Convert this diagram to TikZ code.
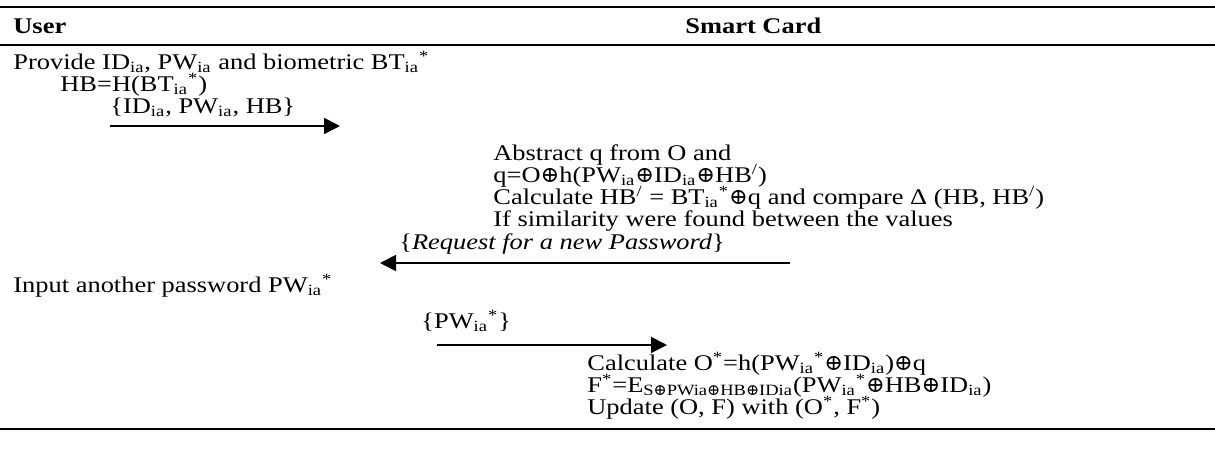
\documentclass[tikz,border=0pt]{standalone}
\usepackage{fontspec}
\setmainfont{Liberation Serif}[FakeStretch=1.18]
\newfontfamily\symf{DejaVu Serif}
\usetikzlibrary{arrows.meta}
\newcommand{\ias}{\textsubscript{ia}}
\newcommand{\astr}{\textsuperscript{*}}
\newcommand{\xo}{{\symf ⊕}}
\newcommand{\prm}{\textsuperscript{/}}
\begin{document}
\begin{tikzpicture}[x=0.5pt,y=-0.5pt,
  txt/.style={anchor=base west,inner sep=0pt,font=\fontsize{11.2}{13}\selectfont},
  hdr/.style={txt,font=\fontsize{11.2}{13}\selectfont\bfseries},
  rulethick/.style={line width=1pt},
  rulethin/.style={line width=0.75pt},
  msg/.style={line width=0.9pt,-{Triangle[length=8pt,width=8pt]}}]
\useasboundingbox (0,0) rectangle (1215,450);
% rules
\coordinate (r1a) at (0,7);   \coordinate (r1b) at (1215,7);
\coordinate (r2a) at (0,45);  \coordinate (r2b) at (1215,45);
\coordinate (r3a) at (0,429); \coordinate (r3b) at (1215,429);
\draw[rulethick] (r1a) -- (r1b);
\draw[rulethin] (r2a) -- (r2b);
\draw[rulethick] (r3a) -- (r3b);
% headers
\node[hdr] (user) at (13,33) {User};
\node[hdr] (card) at (685,33) {Smart Card};
% user side
\node[txt] (l1) at (13,69) {Provide ID\ias, PW\ias{} and biometric BT\ias\astr};
\node[txt] (l2) at (60,91) {HB=H(BT\ias\astr)};
\node[txt] (m1) at (110,113) {\{ID\ias, PW\ias, HB\}};
\coordinate (a1s) at (110,126);
\coordinate (a1e) at (340,126);
\draw[msg] (a1s) -- (a1e);
% card side
\node[txt] (c1) at (493,160) {Abstract q from O and};
\node[txt] (c2) at (493,182) {q=O\xo h(PW\ias\xo ID\ias\xo HB\prm)};
\node[txt] (c3) at (493,204) {Calculate HB\prm{} = BT\ias\astr\xo q and compare Δ (HB, HB\prm)};
\node[txt] (c4) at (493,226) {If similarity were found between the values};
\node[txt] (m2) at (399,249) {\{\textit{Request for a new Password}\}};
\coordinate (a2s) at (790,263);
\coordinate (a2e) at (380,263);
\draw[msg] (a2s) -- (a2e);
\node[txt] (u3) at (13,292) {Input another password PW\ias\astr};
\node[txt] (m3) at (421,328) {\{PW\ias\astr\}};
\coordinate (a3s) at (437,345);
\coordinate (a3e) at (667,345);
\draw[msg] (a3s) -- (a3e);
\node[txt] (d1) at (587,370) {Calculate O\astr=h(PW\ias\astr\xo ID\ias)\xo q};
\node[txt] (d2) at (587,392) {F\astr=E\textsubscript{S\xo PWia\xo HB\xo IDia}(PW\ias\astr\xo HB\xo ID\ias)};
\node[txt] (d3) at (587,414) {Update (O, F) with (O\astr, F\astr)};
\end{tikzpicture}
\end{document}
